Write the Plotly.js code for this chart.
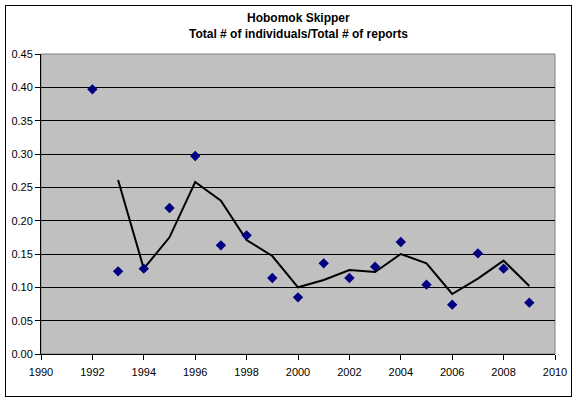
<!DOCTYPE html>
<html>
<head>
<meta charset="utf-8">
<script src="https://cdn.plot.ly/plotly-3.0.1.min.js"></script>
<style>
  body { margin: 0; padding: 0; background: #fff; }
  #wrap { position: relative; width: 576px; height: 400px; }
  #chart { width: 576px; height: 400px; }
  #frame { position: absolute; left: 5px; top: 5px; width: 565px; height: 390px;
           border: 1px solid #000; pointer-events: none; }
</style>
</head>
<body>
<div id="wrap">
  <div id="chart"></div>
  <div id="frame"></div>
</div>
<script>
// Data
const years = [1992, 1993, 1994, 1995, 1996, 1997, 1998, 1999, 2000, 2001,
               2002, 2003, 2004, 2005, 2006, 2007, 2008, 2009];
const ratio = [0.397, 0.124, 0.128, 0.219, 0.297, 0.163, 0.178, 0.114, 0.085, 0.136,
               0.114, 0.131, 0.168, 0.104, 0.074, 0.151, 0.128, 0.077];
const trendYears = [1993, 1994, 1995, 1996, 1997, 1998, 1999, 2000, 2001,
                    2002, 2003, 2004, 2005, 2006, 2007, 2008, 2009];
const trendValues = [0.261, 0.128, 0.175, 0.258, 0.230, 0.171, 0.147, 0.100, 0.111,
                     0.126, 0.123, 0.150, 0.136, 0.090, 0.113, 0.140, 0.102];
const titleLines = ['Hobomok Skipper', 'Total # of individuals/Total # of reports'];

const font = 'Arial, "Liberation Sans", sans-serif';

const traces = [
  {
    x: trendYears, y: trendValues, type: 'scatter', mode: 'lines',
    line: { color: '#000000', width: 2 }, hoverinfo: 'skip'
  },
  {
    x: years, y: ratio, type: 'scatter', mode: 'markers',
    marker: { symbol: 'diamond', color: '#000080', size: 8 }
  }
];

const layout = {
  width: 576, height: 400,
  margin: { l: 41, r: 21, t: 54, b: 46 },
  paper_bgcolor: '#ffffff',
  plot_bgcolor: '#c0c0c0',
  showlegend: false,
  font: { family: font, size: 11, color: '#000' },
  annotations: [
    { text: '<b>' + titleLines[0] + '</b>', xref: 'paper', yref: 'paper',
      x: 0.5, y: 1.12, xanchor: 'center', yanchor: 'middle', showarrow: false,
      font: { family: font, size: 12, color: '#000' } },
    { text: '<b>' + titleLines[1] + '</b>', xref: 'paper', yref: 'paper',
      x: 0.5, y: 1.0667, xanchor: 'center', yanchor: 'middle', showarrow: false,
      font: { family: font, size: 12, color: '#000' } }
  ],
  xaxis: {
    range: [1990, 2010], tick0: 1990, dtick: 2,
    showgrid: false, zeroline: false,
    showline: true, linecolor: '#000', linewidth: 1,
    ticks: 'outside', ticklen: 5, tickcolor: '#000',
    ticklabelstandoff: 3,
    tickfont: { family: font, size: 11, color: '#000' }
  },
  yaxis: {
    range: [0, 0.45], tick0: 0, dtick: 0.05, tickformat: '.2f',
    showgrid: true, gridcolor: '#000', gridwidth: 1,
    zeroline: false,
    showline: true, linecolor: '#000', linewidth: 1,
    ticks: 'outside', ticklen: 5, tickcolor: '#000',
    tickfont: { family: font, size: 11, color: '#000' }
  },
  shapes: [
    { type: 'rect', xref: 'paper', yref: 'paper', x0: 0, x1: 1, y0: 0, y1: 1,
      line: { color: '#808080', width: 1 }, layer: 'below' }
  ]
};

Plotly.newPlot('chart', traces, layout, { displayModeBar: false, staticPlot: true });
</script>
</body>
</html>
